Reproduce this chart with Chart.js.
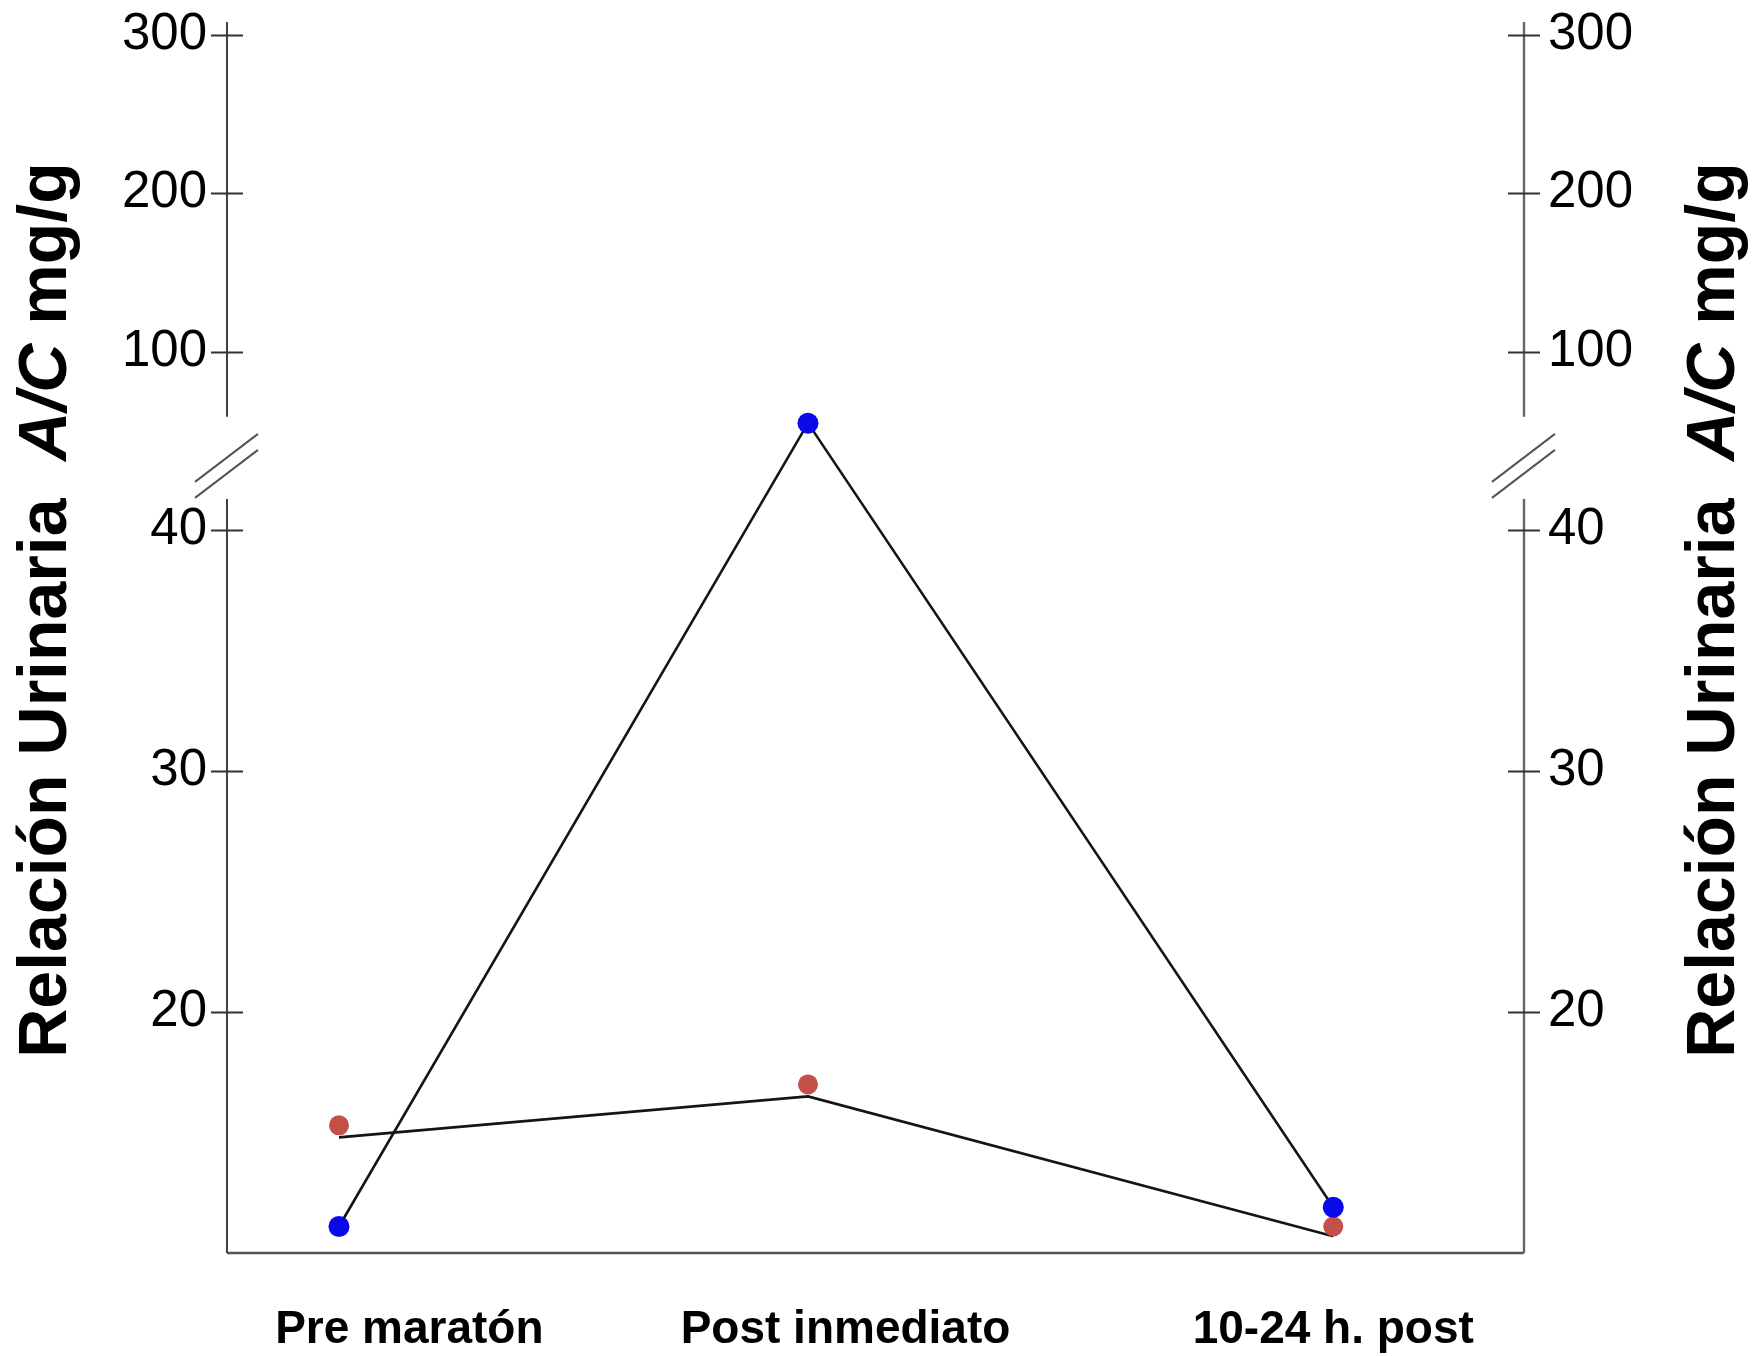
<!DOCTYPE html>
<html>
<head>
<meta charset="utf-8">
<script src="https://cdn.jsdelivr.net/npm/chart.js@4.4.1/dist/chart.umd.min.js"></script>
<style>
  html, body { margin: 0; padding: 0; background: #fff; }
  canvas { display: block; }
</style>
</head>
<body>
<canvas id="chart" width="1754" height="1356"></canvas>
<script>
// Time points and the horizontal slot where each one sits
const categories = ['Pre maratón', 'Post inmediato', '10-24 h. post'];
const pointSlots = [0, 1, 2.12];
const labelSlots = [0.15, 1.08, 2.12];

// Urinary albumin/creatinine ratio (mg/g)
const blueValues = [11.1, 55, 11.9];
const redValues = [15.3, 17.0, 11.1];
const redTrend = [14.8, 16.5, 10.7];

// Axis ticks on both sides of the break
const lowerTicks = [20, 30, 40];
const upperTicks = [100, 200, 300];
const yTicks = lowerTicks.concat(upperTicks);

// Broken value axis: lower band 10-41.3, upper band 50-308.2
const BREAK = { min: 10, lowTop: 41.3, highBottom: 50, max: 308.2, lowFrac: 0.6125, highFrac: 0.6677 };
const UPPER_AXIS_START = 59;

const FONT = "'Liberation Sans', Arial, Helvetica, sans-serif";

function toDecimal(v) {
  const b = BREAK;
  if (v <= b.lowTop) return (v - b.min) / (b.lowTop - b.min) * b.lowFrac;
  if (v >= b.highBottom) return b.highFrac + (v - b.highBottom) / (b.max - b.highBottom) * (1 - b.highFrac);
  return b.lowFrac + (v - b.lowTop) / (b.highBottom - b.lowTop) * (b.highFrac - b.lowFrac);
}
function fromDecimal(d) {
  const b = BREAK;
  if (d <= b.lowFrac) return b.min + d / b.lowFrac * (b.lowTop - b.min);
  if (d >= b.highFrac) return b.highBottom + (d - b.highFrac) / (1 - b.highFrac) * (b.max - b.highBottom);
  return b.lowTop + (d - b.lowFrac) / (b.highFrac - b.lowFrac) * (b.highBottom - b.lowTop);
}

class BrokenScale extends Chart.LinearScale {
  getPixelForValue(v) {
    if (v === null || v === undefined || isNaN(v)) return NaN;
    return this.getPixelForDecimal(toDecimal(v));
  }
  getValueForPixel(p) {
    return fromDecimal(this.getDecimalForPixel(p));
  }
}
BrokenScale.id = 'broken';
BrokenScale.defaults = Chart.LinearScale.defaults;
Chart.register(BrokenScale);

const pts = vals => vals.map((v, i) => ({ x: pointSlots[i], y: v }));

// Axis lines with a break, cross ticks and the bottom baseline
const axisPlugin = {
  id: 'brokenAxes',
  beforeDatasetsDraw(chart) {
    const { ctx, chartArea } = chart;
    const sides = [
      { scale: chart.scales.y, x: chartArea.left, color: '#2e2e2e', width: 1.8 },
      { scale: chart.scales.yR, x: chartArea.right, color: '#666', width: 2.4 }
    ];
    ctx.save();
    ctx.lineCap = 'butt';
    // bottom baseline
    ctx.strokeStyle = '#555';
    ctx.lineWidth = 2.6;
    ctx.beginPath();
    ctx.moveTo(chartArea.left, chartArea.bottom);
    ctx.lineTo(chartArea.right, chartArea.bottom);
    ctx.stroke();
    sides.forEach(s => {
      const sc = s.scale;
      const yTop = sc.getPixelForValue(BREAK.max);
      const yUpperEnd = sc.getPixelForValue(UPPER_AXIS_START);
      const yLowerStart = sc.getPixelForValue(BREAK.lowTop);
      const yBottom = sc.getPixelForValue(BREAK.min);
      ctx.strokeStyle = s.color;
      ctx.lineWidth = s.width;
      ctx.beginPath();
      ctx.moveTo(s.x, yTop); ctx.lineTo(s.x, yUpperEnd);
      ctx.moveTo(s.x, yLowerStart); ctx.lineTo(s.x, yBottom);
      ctx.stroke();
      // ticks crossing the axis
      ctx.strokeStyle = '#333';
      ctx.lineWidth = 1.8;
      ctx.beginPath();
      yTicks.forEach(v => {
        const py = Math.round(sc.getPixelForValue(v)) + 0.5;
        ctx.moveTo(s.x - 16, py); ctx.lineTo(s.x + 16, py);
      });
      ctx.stroke();
      // break marks
      const mid = (yUpperEnd + yLowerStart) / 2;
      ctx.strokeStyle = '#555';
      ctx.lineWidth = 2;
      ctx.beginPath();
      ctx.moveTo(s.x - 32, mid + 24); ctx.lineTo(s.x + 31, mid - 24);
      ctx.moveTo(s.x - 32, mid + 40); ctx.lineTo(s.x + 31, mid - 8);
      ctx.stroke();
    });
    ctx.restore();
  }
};

// Vertical axis titles, with the ratio symbol in italics
const titleParts = [
  { text: 'Relación Urinaria  ', italic: false },
  { text: 'A/C', italic: true },
  { text: ' mg/g', italic: false }
];
const titlePlugin = {
  id: 'sideTitles',
  afterDraw(chart) {
    const { ctx } = chart;
    const size = 68;
    const fontFor = p => (p.italic ? 'italic ' : '') + 'bold ' + size + 'px ' + FONT;
    ctx.save();
    let total = 0;
    titleParts.forEach(p => { ctx.font = fontFor(p); total += ctx.measureText(p.text).width; });
    const centerY = 610;
    [66, 1734].forEach(baseX => {
      ctx.save();
      ctx.translate(baseX, centerY);
      ctx.rotate(-Math.PI / 2);
      ctx.fillStyle = '#000';
      ctx.textBaseline = 'alphabetic';
      ctx.textAlign = 'left';
      let x = -total / 2;
      titleParts.forEach(p => {
        ctx.font = fontFor(p);
        ctx.fillText(p.text, x, 0);
        x += ctx.measureText(p.text).width;
      });
      ctx.restore();
    });
    ctx.restore();
  }
};

const yScale = (position, padding, width) => ({
  type: 'broken',
  position: position,
  min: BREAK.min,
  max: BREAK.max,
  grid: { display: false, drawTicks: false },
  border: { display: false },
  afterBuildTicks: s => { s.ticks = yTicks.map(v => ({ value: v })); },
  afterFit: s => { s.width = width; s.paddingTop = 0; s.paddingBottom = 0; },
  ticks: {
    autoSkip: false,
    padding: padding,
    color: '#000',
    font: { family: FONT, size: 51 },
    callback: v => String(v)
  }
});

new Chart(document.getElementById('chart'), {
  type: 'scatter',
  data: {
    datasets: [
      { label: 'azul', data: pts(blueValues), backgroundColor: '#0a0ae8', pointRadius: 10.5, pointBorderWidth: 0, showLine: false, order: 1 },
      { label: 'rojo', data: pts(redValues), backgroundColor: '#c4504a', pointRadius: 10, pointBorderWidth: 0, showLine: false, order: 2 },
      { type: 'line', label: 'línea azul', data: pts(blueValues), borderColor: '#151515', borderWidth: 2.6, pointRadius: 0, fill: false, tension: 0, order: 3 },
      { type: 'line', label: 'línea roja', data: pts(redTrend), borderColor: '#151515', borderWidth: 2.6, pointRadius: 0, fill: false, tension: 0, order: 4 }
    ]
  },
  options: {
    responsive: false,
    animation: false,
    events: [],
    layout: { padding: { top: 22, left: 0, right: 0, bottom: 0 } },
    plugins: { legend: { display: false }, tooltip: { enabled: false } },
    scales: {
      x: {
        type: 'linear',
        position: 'bottom',
        min: -0.2388,
        max: 2.5267,
        grid: { display: false, drawTicks: false },
        border: { display: false },
        afterBuildTicks: s => { s.ticks = labelSlots.map(v => ({ value: v })); },
        afterFit: s => { s.height = 103; s.paddingLeft = 0; s.paddingRight = 0; },
        ticks: {
          autoSkip: false,
          maxRotation: 0,
          minRotation: 0,
          padding: 50,
          color: '#000',
          font: { family: FONT, size: 46, weight: 'bold' },
          callback: (v, i) => categories[i]
        }
      },
      y: yScale('left', 20, 227),
      yR: yScale('right', 24, 230)
    }
  },
  plugins: [axisPlugin, titlePlugin]
});
</script>
</body>
</html>
